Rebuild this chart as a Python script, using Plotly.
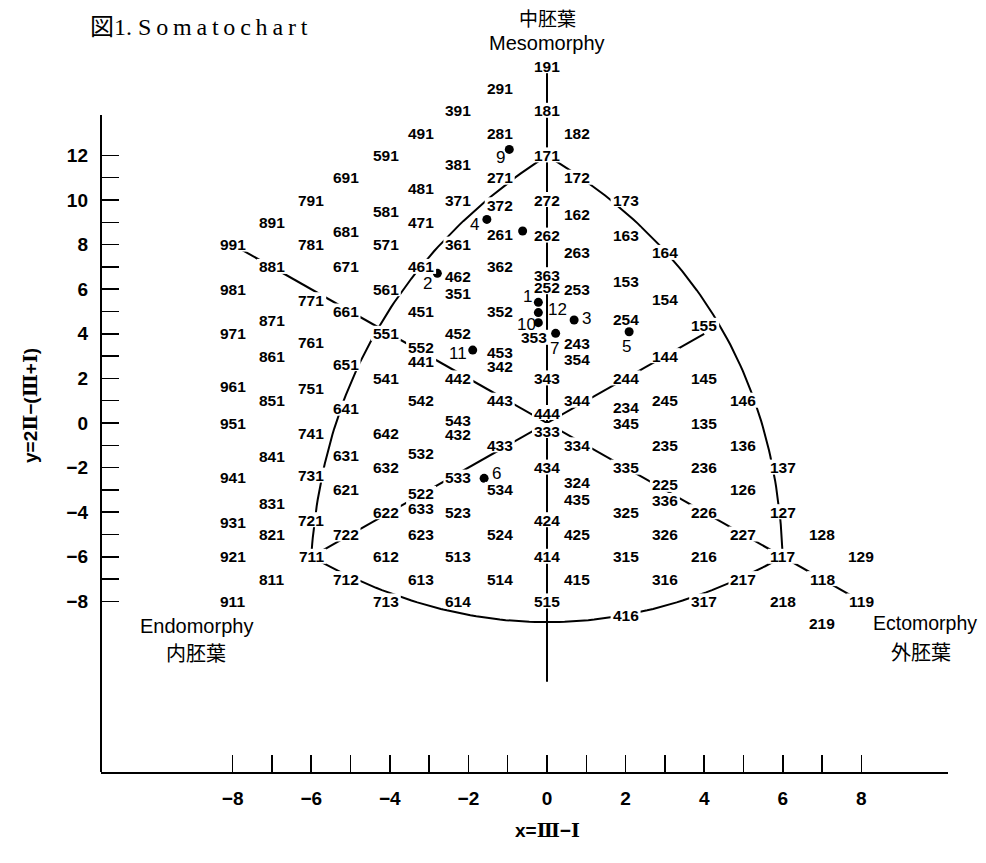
import plotly.graph_objects as go

# ---------------- data ----------------
# somatotype codes (I = endomorphy, II = mesomorphy, III = ectomorphy)
somatotypes = [
    "991", "981", "971", "961", "951", "941", "931", "921", "911",
    "891", "881", "871", "861", "851", "841", "831", "821", "811",
    "791", "781", "771", "761", "751", "741", "731", "721", "711",
    "691", "681", "671", "661", "651", "641", "631", "621", "722", "712",
    "591", "581", "571", "561", "551", "541", "642", "632", "622", "612", "713",
    "491", "481", "471", "461", "451", "552", "441", "542", "532", "522", "633", "623", "613",
    "391", "381", "371", "361", "462", "351", "452", "442", "543", "432", "533", "523", "513", "614",
    "291", "281", "271", "372", "261", "362", "352", "453", "342", "443", "433", "534", "524", "514",
    "191", "181", "171", "272", "262", "363", "252", "353", "343", "444", "333", "434", "424", "414", "515",
    "182", "172", "162", "263", "253", "243", "354", "344", "334", "324", "435", "425", "415",
    "173", "163", "153", "254", "244", "234", "345", "335", "325", "315", "416",
    "164", "154", "144", "245", "235", "225", "336", "326", "316",
    "155", "145", "135", "236", "226", "216", "317",
    "146", "136", "126", "227", "217",
    "137", "127", "117", "218",
    "128", "118", "219",
    "129", "119",
]

# plotted subjects
subject_labels = ["1", "2", "3", "4", "5", "6", "7", "", "9", "10", "11", "12"]
subject_x = [-0.22, -2.79, 0.69, -1.53, 2.09, -1.60, 0.22, -0.62, -0.96, -0.22, -1.89, -0.22]
subject_y = [5.41, 6.71, 4.62, 9.13, 4.09, -2.48, 4.02, 8.61, 12.27, 4.50, 3.27, 4.95]

# reference lines of the chart (by somatotype code)
straight_lines = [("991", "119"), ("711", "155")]
boundary_arcs = [("171", "711"), ("171", "117"), ("711", "117")]
vertical_line_y = [16, -11.6]

x_ticks = list(range(-8, 9))
y_ticks = list(range(-8, 13))
y_axis_top = 13.81


def coords(code):
    a, b, c = (int(ch) for ch in code)
    return c - a, 2 * b - (a + c)


# ---------------- styling ----------------
FONT = "Liberation Sans, Arial, sans-serif"
CJK = "Noto Sans CJK JP"
LABEL_SIZE = 15.5
MASK_W, MASK_H = 30, 15
BULGE = {("171", "711"): (-1.28, 1.31), ("171", "117"): (1.38, 1.42), ("711", "117"): (0.0, -2.93)}
COL_XSHIFT = {-5: -5, -4: -4, -3: -8, -2: -10, -1: -8, 1: -9}
LABEL_XSHIFT = {"353": -13}
LABEL_YSHIFT = {
    "941": -10, "931": -10, "961": -8, "871": -9, "841": -11, "831": -14, "771": -11, "761": -9,
    "751": -10, "741": -10, "731": -8, "721": -8, "681": -9, "651": -8, "641": -8, "631": -10,
    "581": -11, "642": -10, "481": -11, "552": 9, "441": -5, "633": -19, "522": -4, "532": -8,
    "381": -9, "462": 13, "351": -4, "543": 3, "432": -11, "533": -10, "372": 17, "261": -12,
    "453": 4, "342": -10, "262": 9, "363": 14, "252": 2, "353": -4, "444": 10, "333": -8,
    "424": -8, "162": 8, "263": 14, "253": 22, "243": 13, "354": -3, "324": 7, "435": -10,
    "163": 9, "153": 8, "254": 14, "234": 16, "416": -14, "164": 14, "154": 12, "225": 5,
    "336": -11, "155": 8,
}
SUBJ_SHIFT = {"1": (-11, 6), "2": (-10, -10), "3": (12, 1), "4": (-12, -5), "5": (-3, -15),
              "6": (12, 5), "7": (-1, -15), "9": (-9, -8), "10": (-12, -2), "11": (-15, -3),
              "12": (19, 3)}


def roman(s):
    return '<span style="font-family:DejaVu Serif">' + s + '</span>'


fig = go.Figure()
line_style = dict(color="black", width=2)

# straight lines
for p, q in straight_lines:
    (x0, y0), (x1, y1) = coords(p), coords(q)
    fig.add_trace(go.Scatter(x=[x0, x1], y=[y0, y1], mode="lines", line=line_style,
                             hoverinfo="skip"))
fig.add_trace(go.Scatter(x=[0, 0], y=vertical_line_y, mode="lines", line=line_style,
                         hoverinfo="skip"))

# boundary arcs
for p, q in boundary_arcs:
    (x0, y0), (x1, y1) = coords(p), coords(q)
    bx, by = BULGE[(p, q)]
    n = 80
    xs, ys = [], []
    for i in range(n + 1):
        t = i / n
        w = 4 * t * (1 - t)
        xs.append(x0 + t * (x1 - x0) + w * bx)
        ys.append(y0 + t * (y1 - y0) + w * by)
    fig.add_trace(go.Scatter(x=xs, y=ys, mode="lines", line=line_style, hoverinfo="skip"))

# subjects
fig.add_trace(go.Scatter(x=subject_x, y=subject_y, mode="markers",
                         marker=dict(color="black", size=9), hoverinfo="skip"))

shapes = [
    # y axis line (ends above the top tick like the original)
    dict(type="line", xref="paper", yref="y", x0=0, x1=0, y0=-15.65, y1=y_axis_top,
         line=dict(color="black", width=2), layer="above"),
]
annotations = []
for code in somatotypes:
    x, y = coords(code)
    dx = COL_XSHIFT.get(x, 0) + LABEL_XSHIFT.get(code, 0)
    dy = LABEL_YSHIFT.get(code, 0)
    # white mask under the label so that the lines are broken by it
    shapes.append(dict(type="rect", xref="x", yref="y", xsizemode="pixel", ysizemode="pixel",
                       xanchor=x, yanchor=y,
                       x0=dx - MASK_W / 2, x1=dx + MASK_W / 2,
                       y0=dy - MASK_H / 2 + 0.5, y1=dy + MASK_H / 2 + 0.5,
                       fillcolor="white", line=dict(width=0), layer="above"))
    annotations.append(dict(
        x=x, y=y, xref="x", yref="y", text=code, showarrow=False,
        font=dict(family=FONT, size=LABEL_SIZE, color="black", weight="bold"),
        xshift=dx, yshift=dy,
    ))

for lab, x, y in zip(subject_labels, subject_x, subject_y):
    if not lab:
        continue
    dx, dy = SUBJ_SHIFT[lab]
    annotations.append(dict(x=x, y=y, xref="x", yref="y", text=lab, showarrow=False,
                            font=dict(family=FONT, size=17, color="black"),
                            xshift=dx, yshift=dy))

# titles / pole names
annotations += [
    dict(x=-0.0153, y=1.0178, xref="paper", yref="paper", xanchor="left", yanchor="middle",
         text="図1. S\u2009o\u2009m\u2009a\u2009t\u2009o\u2009c\u2009h\u2009a\u2009r\u2009t",
         showarrow=False,
         font=dict(family="Liberation Serif, Noto Sans CJK JP, serif", size=24, color="black")),
    dict(x=0.5266, y=1.0314, xref="paper", yref="paper", xanchor="center", yanchor="middle",
         text="中胚葉", showarrow=False, font=dict(family=CJK, size=19, color="black")),
    dict(x=0.5266, y=0.9959, xref="paper", yref="paper", xanchor="center", yanchor="middle",
         text="Mesomorphy", showarrow=False, font=dict(family=FONT, size=20, color="black")),
    dict(x=0.1122, y=0.1995, xref="paper", yref="paper", xanchor="center", yanchor="middle",
         text="Endomorphy", showarrow=False, font=dict(family=FONT, size=20, color="black")),
    dict(x=0.1122, y=0.1626, xref="paper", yref="paper", xanchor="center", yanchor="middle",
         text="内胚葉", showarrow=False, font=dict(family=CJK, size=20, color="black")),
    dict(x=0.9728, y=0.2036, xref="paper", yref="paper", xanchor="center", yanchor="middle",
         text="Ectomorphy", showarrow=False, font=dict(family=FONT, size=19.5, color="black")),
    dict(x=0.9687, y=0.1653, xref="paper", yref="paper", xanchor="center", yanchor="middle",
         text="外胚葉", showarrow=False, font=dict(family=CJK, size=20, color="black")),
    dict(x=-0.0838, y=0.5000, xref="paper", yref="paper", xanchor="center", yanchor="middle",
         text="y=2" + roman("Ⅱ") + "−(" + roman("Ⅲ") + "+" + roman("Ⅰ") + ")", textangle=-90,
         showarrow=False, font=dict(family=FONT, size=19, color="black", weight="bold")),
    dict(x=0.5266, y=-0.0792, xref="paper", yref="paper", xanchor="center", yanchor="middle",
         text="x=" + roman("Ⅲ") + "−" + roman("Ⅰ"), showarrow=False,
         font=dict(family=FONT, size=19, color="black", weight="bold")),
]


def tick_text(v):
    if v % 2:
        return ""
    return ("\u2212" + str(-v)) if v < 0 else str(v)


fig.update_layout(
    width=986, height=863,
    margin=dict(l=101, r=38, t=40, b=91),
    paper_bgcolor="white", plot_bgcolor="white",
    showlegend=False,
    annotations=annotations,
    shapes=shapes,
    xaxis=dict(range=[-11.349, 10.204], showgrid=False, zeroline=False,
               showline=True, linecolor="black", linewidth=2,
               ticks="inside", ticklen=17, tickwidth=1.5, tickcolor="black",
               tickvals=x_ticks, ticktext=[tick_text(v) for v in x_ticks],
               ticklabelstandoff=8,
               tickfont=dict(family=FONT, size=19, color="black", weight="bold")),
    yaxis=dict(range=[-15.650, 17.175], showgrid=False, zeroline=False,
               showline=False,
               ticks="inside", ticklen=18, tickwidth=1.5, tickcolor="black",
               tickvals=y_ticks, ticktext=[tick_text(v) for v in y_ticks],
               ticklabelstandoff=12,
               tickfont=dict(family=FONT, size=19, color="black", weight="bold")),
)

fig.write_html(
    "out.html",
    config={"displayModeBar": False, "staticPlot": True},
    post_script="document.body.style.margin='0';"
                "document.body.style.overflow='hidden';"
                "document.documentElement.style.overflow='hidden';",
)
